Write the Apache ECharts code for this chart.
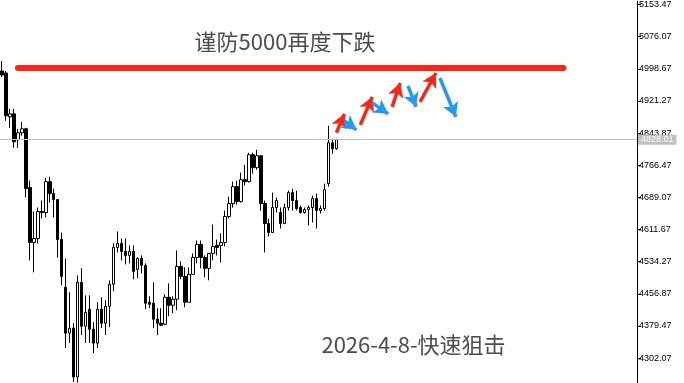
<!DOCTYPE html>
<html><head><meta charset="utf-8">
<script src="https://cdn.jsdelivr.net/npm/echarts@6/dist/echarts.min.js"></script>
<style>html,body{margin:0;padding:0;background:#fff}#c{width:684px;height:383px}</style>
</head><body><div id="c"></div>
<script>
const opens = [4993.4,4988.6,4883.0,4890.2,4827.8,4844.6,4854.2,4712.6,4580.6,4590.2,4655.0,4652.6,4727.0,4698.2,4683.8,4587.8,4472.6,4362.2,4374.2,4256.6,4484.6,4379.0,4419.8,4371.8,4338.2,4419.8,4386.2,4427.0,4479.8,4568.6,4578.2,4559.0,4549.4,4559.0,4515.8,4542.2,4525.4,4436.6,4434.2,4395.8,4386.2,4383.8,4448.6,4429.4,4443.8,4523.0,4499.0,4436.6,4503.8,4544.6,4575.8,4544.6,4518.2,4554.2,4573.4,4573.4,4580.6,4643.0,4674.2,4715.0,4679.0,4731.8,4727.0,4791.8,4760.6,4789.4,4674.2,4626.2,4604.6,4664.6,4652.6,4626.2,4664.6,4700.6,4681.4,4664.6,4652.6,4659.8,4664.6,4686.2,4657.4,4662.2,4722.2,4820.6,4806.2];
const closes = [4983.8,4885.4,4890.2,4823.0,4844.6,4854.2,4710.2,4580.6,4590.2,4655.0,4652.6,4727.0,4698.2,4683.8,4587.8,4499.0,4362.2,4374.2,4256.6,4484.6,4379.0,4412.6,4371.8,4338.2,4419.8,4386.2,4427.0,4479.8,4568.6,4578.2,4559.0,4549.4,4559.0,4511.0,4542.2,4525.4,4434.2,4431.8,4395.8,4386.2,4381.4,4448.6,4429.4,4443.8,4523.0,4499.0,4436.6,4503.8,4544.6,4575.8,4544.6,4518.2,4554.2,4571.0,4568.6,4580.6,4643.0,4674.2,4715.0,4679.0,4731.8,4727.0,4791.8,4760.6,4789.4,4674.2,4626.2,4604.6,4664.6,4681.4,4626.2,4664.6,4700.6,4681.4,4662.2,4652.6,4659.8,4664.6,4686.2,4657.4,4662.2,4707.8,4820.6,4806.2,4828.01];
const lows = [4979.0,4873.4,4856.6,4808.6,4808.6,4837.4,4688.6,4537.4,4508.6,4578.2,4638.2,4640.6,4676.6,4640.6,4544.6,4477.4,4326.2,4338.2,4244.6,4243.0,4357.4,4338.2,4338.2,4314.2,4326.2,4374.2,4357.4,4376.6,4463.0,4556.6,4537.4,4527.8,4530.2,4491.8,4494.2,4506.2,4419.8,4422.2,4374.2,4357.4,4379.0,4381.4,4403.0,4410.2,4417.4,4491.8,4424.6,4436.6,4503.8,4530.2,4518.2,4496.6,4489.4,4537.4,4549.4,4532.6,4571.0,4638.2,4664.6,4671.8,4676.6,4717.4,4724.6,4746.2,4755.8,4657.4,4556.6,4595.0,4604.6,4652.6,4614.2,4626.2,4657.4,4657.4,4657.4,4650.2,4650.2,4621.4,4628.6,4614.2,4650.2,4657.4,4715.0,4794.2,4803.8];
const highs = [5017.4,4993.4,4902.2,4902.2,4854.2,4871.0,4856.6,4729.4,4655.0,4664.6,4681.4,4736.6,4739.0,4710.2,4683.8,4604.6,4542.2,4460.6,4386.2,4501.4,4518.2,4453.4,4453.4,4388.6,4436.6,4448.6,4441.4,4489.4,4578.2,4607.0,4590.2,4590.2,4573.4,4573.4,4544.6,4549.4,4530.2,4451.0,4484.6,4422.2,4422.2,4455.8,4482.2,4451.0,4561.4,4535.0,4520.6,4520.6,4554.2,4585.4,4585.4,4549.4,4554.2,4623.8,4587.8,4602.2,4657.4,4691.0,4727.0,4729.4,4748.6,4767.8,4796.6,4796.6,4803.8,4789.4,4681.4,4638.2,4700.6,4688.6,4664.6,4674.2,4705.4,4710.2,4705.4,4669.4,4664.6,4669.4,4693.4,4698.2,4669.4,4722.2,4861.4,4830.2,4830.2];
const priceTicks = [4302.07,4379.47,4456.87,4534.27,4611.67,4689.07,4766.47,4843.87,4921.27,4998.67,5076.07,5153.47];
const lastPrice = 4828.01;
const resistance = 5000;
const resistanceSpan = [4.3, 140.7];
// annotation arrows: [fromIndex, fromValue, toIndex, toValue]
const upArrows = [[83.8,4844.6,86.1,4890.2],[89.8,4863.8,92.8,4931.0],[97.6,4907.0,100.4,4964.6],[104.6,4919.0,109.1,4988.6]];
const downArrows = [[86.3,4873.4,88.8,4851.8],[93.3,4916.6,96.6,4890.2],[101.9,4957.4,104.4,4907.0],[110.1,4976.6,114.4,4883.0]];
const titleText = '谨防5000再度下跌';
const footText = '2026-4-8-快速狙击';
const slotCount = 160;

const categories = Array.from({length: slotCount}, (_, i) => 'b' + i);
const candles = opens.map((o, i) => [o, closes[i], lows[i], highs[i]]);

const RED = '#ff2418', BLUE = '#1e9bf5';
const arrowItem = (a, color) => [
  {coord: [a[0], a[1]], symbol: 'none'},
  {coord: [a[2], a[3]], symbol: 'arrow', symbolSize: [12, 14],
   lineStyle: {color: color, width: 3.5, type: 'solid'}, itemStyle: {color: color}, label: {show: false}}
];
const markData = [
  {yAxis: lastPrice, symbol: 'none',
   lineStyle: {color: '#c0c0c0', width: 1, type: 'solid'},
   label: {show: true, position: 'end', distance: 1, formatter: lastPrice.toFixed(2),
     color: '#fff', backgroundColor: '#c0c0c0', padding: [1, 3, 0, 3],
     fontFamily: 'Liberation Sans', fontSize: 9}},
  [{coord: [resistanceSpan[0], resistance], symbol: 'none'},
   {coord: [resistanceSpan[1], resistance], symbol: 'none',
    lineStyle: {color: RED, width: 6, type: 'solid', cap: 'round'}, label: {show: false}}],
  ...upArrows.map(a => arrowItem(a, RED)),
  ...downArrows.map(a => arrowItem(a, BLUE))
];

const chart = echarts.init(document.getElementById('c'), null, {renderer: 'canvas'});
chart.setOption({
  animation: false,
  backgroundColor: '#fff',
  grid: {left: -1.5, right: 47, top: 0, bottom: 0, containLabel: false},
  xAxis: {type: 'category', data: categories, boundaryGap: true, show: false},
  yAxis: {
    type: 'value', position: 'right', min: 4242.19, max: 5161.39, scale: true,
    splitLine: {show: false},
    axisLine: {show: true, lineStyle: {color: '#000', width: 1}},
    axisTick: {show: true, inside: false, length: 4, lineStyle: {color: '#000'}, customValues: priceTicks},
    axisLabel: {show: true, customValues: priceTicks, margin: 2, color: '#000',
      fontFamily: 'Liberation Sans', fontSize: 9, formatter: v => v.toFixed(2)}
  },
  graphic: [
    {type: 'text', x: 285, y: 42, style: {text: titleText, fill: '#4d4d4d', font: '22px "Noto Sans CJK SC"', textAlign: 'center', textVerticalAlign: 'middle'}},
    {type: 'text', x: 413.5, y: 345, style: {text: footText, fill: '#4d4d4d', font: '22px "Noto Sans CJK SC"', textAlign: 'center', textVerticalAlign: 'middle'}}
  ],
  series: [{
    type: 'candlestick',
    data: candles,
    barWidth: 3,
    itemStyle: {color: '#fff', color0: '#000', borderColor: '#000', borderColor0: '#000', borderWidth: 1},
    markLine: {silent: true, animation: false, symbol: ['none', 'none'], precision: 2,
      label: {show: false}, lineStyle: {type: 'solid'}, data: markData}
  }]
});
</script></body></html>
